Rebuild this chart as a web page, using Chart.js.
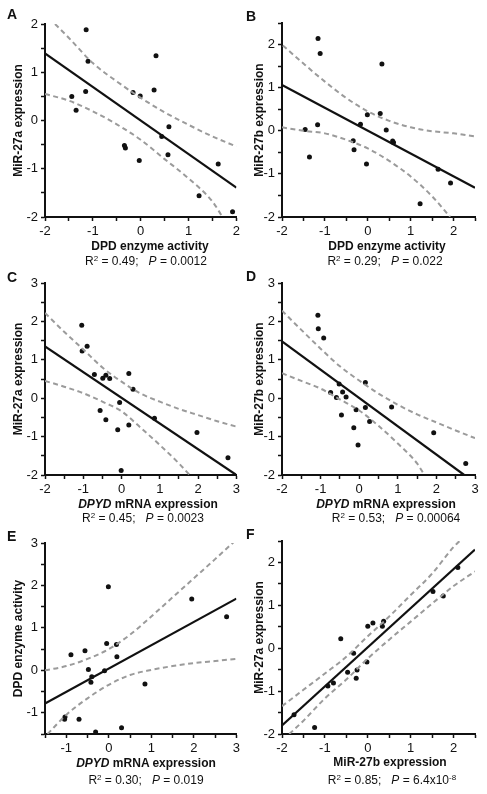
<!DOCTYPE html>
<html>
<head>
<meta charset="utf-8">
<script src="https://cdn.jsdelivr.net/npm/chart.js@4.4.1/dist/chart.umd.min.js"></script>
<style>
  body { margin: 0; background: #fff; }
  #fig { position: relative; width: 487px; height: 794px; background: #fff; font-family: "Liberation Sans", Arial, sans-serif; color: #111; }
  canvas { position: absolute; }
  .lbl { position: absolute; white-space: pre; line-height: 1; transform: translate(-50%, -50%); z-index: 2; }
  .letter { position: absolute; font-weight: bold; font-size: 14px; line-height: 1; z-index: 2; }
  .xt { font-weight: bold; font-size: 12px; }
  .st { font-size: 12px; }
  sup { font-size: 8px; vertical-align: 4px; line-height: 0; }
</style>
</head>
<body>
<div id="fig">
  <canvas id="pA" width="243" height="240" style="left:0px;top:0px"></canvas>
  <canvas id="pB" width="244" height="240" style="left:243px;top:0px"></canvas>
  <canvas id="pC" width="243" height="240" style="left:0px;top:260px"></canvas>
  <canvas id="pD" width="244" height="240" style="left:243px;top:260px"></canvas>
  <canvas id="pE" width="243" height="240" style="left:0px;top:525px"></canvas>
  <canvas id="pF" width="244" height="240" style="left:243px;top:525px"></canvas>

  <div class="letter" style="left:7px;top:7px">A</div>
  <div class="letter" style="left:246px;top:9px">B</div>
  <div class="letter" style="left:7px;top:270px">C</div>
  <div class="letter" style="left:246px;top:269px">D</div>
  <div class="letter" style="left:7px;top:529px">E</div>
  <div class="letter" style="left:246px;top:527px">F</div>

  <div class="lbl xt" style="left:150px;top:246px">DPD enzyme activity</div>
  <div class="lbl xt" style="left:387px;top:246px">DPD enzyme activity</div>
  <div class="lbl xt" style="left:148px;top:504px"><i>DPYD</i> mRNA expression</div>
  <div class="lbl xt" style="left:386px;top:504px"><i>DPYD</i> mRNA expression</div>
  <div class="lbl xt" style="left:146px;top:763px"><i>DPYD</i> mRNA expression</div>
  <div class="lbl xt" style="left:390px;top:762px">MiR-27b expression</div>

  <div class="lbl st" style="left:146px;top:261px">R<sup>2</sup> = 0.49;   <i>P</i> = 0.0012</div>
  <div class="lbl st" style="left:385px;top:261px">R<sup>2</sup> = 0.29;   <i>P</i> = 0.022</div>
  <div class="lbl st" style="left:143px;top:518px">R<sup>2</sup> = 0.45;   <i>P</i> = 0.0023</div>
  <div class="lbl st" style="left:396px;top:518px">R<sup>2</sup> = 0.53;   <i>P</i> = 0.00064</div>
  <div class="lbl st" style="left:146px;top:780px">R<sup>2</sup> = 0.30;   <i>P</i> = 0.019</div>
  <div class="lbl st" style="left:392px;top:780px">R<sup>2</sup> = 0.85;   <i>P</i> = 6.4x10<sup>-8</sup></div>
</div>

<script>
// A: DPD enzyme activity vs MiR-27a
const aX = [-1.14, -1.10, -1.44, -1.35, -1.15, 0.32, -0.16, -0.01, 0.28, 0.59, 0.44, -0.34, -0.32, -0.03, 0.57, 1.62, 1.22, 1.92];
const aY = [1.88, 1.23, 0.50, 0.21, 0.60, 1.34, 0.58, 0.51, 0.63, -0.13, -0.33, -0.52, -0.57, -0.83, -0.71, -0.90, -1.56, -1.89];
const aFitX = [-2, 2], aFitY = [1.39, -1.39];
const aUpX = [-1.79, -1.5, -1, -0.5, 0, 0.5, 1, 1.5, 2];
const aUpY = [2.0, 1.71, 1.19, 0.81, 0.47, 0.17, -0.09, -0.33, -0.54];
const aLoX = [-2, -1.5, -1, -0.5, 0, 0.5, 1, 1.5, 1.71];
const aLoY = [0.55, 0.41, 0.19, -0.08, -0.40, -0.80, -1.20, -1.68, -2.0];

// B: DPD enzyme activity vs MiR-27b
const bX = [-1.16, -1.11, 0.33, -1.46, -1.17, -1.36, -0.01, 0.29, -0.17, 0.43, 0.58, 0.60, -0.34, -0.32, -0.03, 1.64, 1.93, 1.22];
const bY = [2.14, 1.79, 1.55, 0.03, 0.14, -0.61, 0.37, 0.40, 0.15, 0.02, -0.24, -0.27, -0.23, -0.44, -0.77, -0.89, -1.21, -1.69];
const bFitX = [-2, 2.5], bFitY = [1.06, -1.32];
const bUpX = [-1.98, -1.5, -1, -0.5, 0, 0.5, 1, 1.5, 2, 2.5];
const bUpY = [1.98, 1.56, 1.14, 0.76, 0.45, 0.23, 0.08, -0.01, -0.06, -0.13];
const bLoX = [-2, -1.5, -1, -0.5, 0, 0.5, 1, 1.5, 1.92];
const bLoY = [0.08, 0.0, -0.06, -0.21, -0.41, -0.70, -1.06, -1.52, -2.0];

// C: DPYD mRNA vs MiR-27a
const cX = [-1.04, -0.90, -1.03, -0.71, -0.49, -0.41, -0.31, 0.19, 0.30, -0.05, -0.56, -0.41, -0.10, 0.19, 0.86, 1.97, 2.78, -0.01];
const cY = [1.90, 1.35, 1.23, 0.62, 0.52, 0.60, 0.51, 0.64, 0.23, -0.11, -0.32, -0.56, -0.82, -0.70, -0.52, -0.89, -1.55, -1.88];
const cFitX = [-2, 3], cFitY = [1.35, -2.0];
const cUpX = [-2, -1.5, -1, -0.5, 0, 0.5, 1, 1.5, 2, 2.5, 3];
const cUpY = [2.22, 1.73, 1.27, 0.80, 0.43, 0.12, -0.09, -0.28, -0.44, -0.60, -0.74];
const cLoX = [-2, -1.5, -1, -0.5, 0, 0.5, 1, 1.5, 1.78];
const cLoY = [0.45, 0.30, 0.13, -0.09, -0.34, -0.77, -1.22, -1.70, -2.0];

// D: DPYD mRNA vs MiR-27b
const dX = [-1.07, -1.06, -0.92, -0.74, -0.52, -0.59, -0.43, -0.34, 0.16, -0.08, 0.16, -0.46, 0.27, -0.14, -0.03, 0.84, 1.93, 2.76];
const dY = [2.16, 1.81, 1.57, 0.15, 0.37, 0.02, 0.16, 0.03, 0.41, -0.30, -0.24, -0.44, -0.61, -0.77, -1.22, -0.23, -0.90, -1.70];
const dFitX = [-2, 2.72], dFitY = [1.48, -2.0];
const dUpX = [-2, -1.5, -1, -0.5, 0, 0.5, 1, 1.5, 2, 2.5, 3];
const dUpY = [2.28, 1.78, 1.29, 0.83, 0.46, 0.12, -0.17, -0.42, -0.63, -0.84, -1.04];
const dLoX = [-2, -1.5, -1, -0.5, 0, 0.5, 1, 1.5, 1.69];
const dLoY = [0.65, 0.45, 0.25, -0.03, -0.32, -0.72, -1.18, -1.70, -2.0];

// E: DPYD mRNA vs DPD enzyme activity
const eX = [-0.01, 1.95, 2.77, -0.89, -0.56, -0.05, 0.18, 0.19, -0.48, -0.10, -0.40, -0.42, 0.85, -1.03, -1.04, -0.70, -0.31, 0.30];
const eY = [1.97, 1.68, 1.26, 0.37, 0.46, 0.63, 0.61, 0.32, 0.02, -0.01, -0.15, -0.28, -0.32, -1.10, -1.15, -1.15, -1.45, -1.35];
const eFitX = [-1.5, 3], eFitY = [-0.78, 1.69];
const eUpX = [-1.5, -1, -0.5, 0, 0.5, 1, 1.5, 2, 2.5, 3];
const eUpY = [0.0, 0.10, 0.27, 0.50, 0.84, 1.27, 1.72, 2.17, 2.62, 3.08];
const eLoX = [-1.44, -1, -0.5, 0, 0.5, 1, 1.5, 2, 2.5, 3];
const eLoY = [-1.5, -1.05, -0.66, -0.34, -0.11, 0.01, 0.10, 0.17, 0.22, 0.27];

// F: MiR-27b vs MiR-27a
const fX = [2.10, 1.52, 1.76, 0.12, 0.00, 0.37, 0.34, -0.63, -0.33, -0.02, -0.47, -0.25, -0.27, -0.80, -0.93, -1.72, -1.24];
const fY = [1.88, 1.32, 1.22, 0.59, 0.51, 0.63, 0.51, 0.22, -0.12, -0.32, -0.56, -0.51, -0.70, -0.81, -0.88, -1.55, -1.85];
const fFitX = [-2, 2.5], fFitY = [-1.80, 2.30];
const fUpX = [-2, -1.5, -1, -0.5, 0, 0.5, 1, 1.5, 2, 2.14];
const fUpY = [-1.35, -0.97, -0.59, -0.20, 0.28, 0.74, 1.24, 1.74, 2.36, 2.5];
const fLoX = [-1.83, -1.5, -1, -0.5, 0, 0.5, 1, 1.5, 2, 2.5];
const fLoY = [-2.0, -1.69, -1.17, -0.73, -0.24, 0.20, 0.62, 1.04, 1.45, 1.79];

Chart.defaults.font.family = '"Liberation Sans", Arial, sans-serif';
Chart.defaults.color = '#111';

function pts(xs, ys) {
  return xs.map((x, i) => ({ x: x, y: ys[i] }));
}

function intLabel(v) {
  return Math.abs(v - Math.round(v)) < 1e-6 ? String(Math.round(v)) : '';
}

function axis(min, max, extra) {
  return Object.assign({
    type: 'linear',
    min: min,
    max: max,
    ticks: { stepSize: 0.5, autoSkip: false, maxRotation: 0, callback: intLabel, font: { size: 13 }, color: '#111', padding: 3 },
    grid: { display: true, drawOnChartArea: false, drawTicks: true, tickLength: 4, tickWidth: 1.5, tickColor: '#111' },
    border: { display: true, color: '#111', width: 2 }
  }, extra);
}

function panel(id, p) {
  const band = (xs, ys) => ({
    data: pts(xs, ys), showLine: true, pointRadius: 0, borderColor: '#9b9b9b', borderWidth: 2,
    borderDash: [5, 3.5], cubicInterpolationMode: 'monotone', order: 1
  });
  new Chart(document.getElementById(id), {
    type: 'scatter',
    data: {
      datasets: [
        { data: pts(p.x, p.y), pointRadius: 2.5, pointBackgroundColor: '#111', pointBorderWidth: 0, order: 3 },
        { data: pts(p.fitX, p.fitY), showLine: true, pointRadius: 0, borderColor: '#111', borderWidth: 2.2, order: 2 },
        band(p.upX, p.upY),
        band(p.loX, p.loY)
      ]
    },
    options: {
      responsive: false,
      animation: false,
      layout: { padding: { top: p.padTop, right: p.padRight, left: 0, bottom: 0 } },
      plugins: { legend: { display: false }, tooltip: { enabled: false } },
      scales: {
        x: axis(p.xMin, p.xMax, { afterFit: s => { s.height = p.xH; } }),
        y: axis(p.yMin, p.yMax, {
          title: { display: true, text: p.yTitle, font: { size: 12, weight: 'bold' }, color: '#111', padding: { top: p.titlePad, bottom: 0 } },
          afterFit: s => { s.width = p.yW; }
        })
      }
    }
  });
}

panel('pA', { x: aX, y: aY, fitX: aFitX, fitY: aFitY, upX: aUpX, upY: aUpY, loX: aLoX, loY: aLoY,
  xMin: -2, xMax: 2, yMin: -2, yMax: 2, yTitle: 'MiR-27a expression',
  padTop: 24, padRight: 4, yW: 45, xH: 23, titlePad: 11.8 });
panel('pB', { x: bX, y: bY, fitX: bFitX, fitY: bFitY, upX: bUpX, upY: bUpY, loX: bLoX, loY: bLoY,
  xMin: -2, xMax: 2.5, yMin: -2, yMax: 2.5, yTitle: 'MiR-27b expression',
  padTop: 23, padRight: 12, yW: 39, xH: 23, titlePad: 9.5 });
panel('pC', { x: cX, y: cY, fitX: cFitX, fitY: cFitY, upX: cUpX, upY: cUpY, loX: cLoX, loY: cLoY,
  xMin: -2, xMax: 3, yMin: -2, yMax: 3, yTitle: 'MiR-27a expression',
  padTop: 23, padRight: 4, yW: 45, xH: 25, titlePad: 11.8 });
panel('pD', { x: dX, y: dY, fitX: dFitX, fitY: dFitY, upX: dUpX, upY: dUpY, loX: dLoX, loY: dLoY,
  xMin: -2, xMax: 3, yMin: -2, yMax: 3, yTitle: 'MiR-27b expression',
  padTop: 23, padRight: 12, yW: 39, xH: 25, titlePad: 9.5 });
panel('pE', { x: eX, y: eY, fitX: eFitX, fitY: eFitY, upX: eUpX, upY: eUpY, loX: eLoX, loY: eLoY,
  xMin: -1.5, xMax: 3, yMin: -1.5, yMax: 3, yTitle: 'DPD enzyme activity',
  padTop: 18, padRight: 4, yW: 45, xH: 31, titlePad: 11.8 });
panel('pF', { x: fX, y: fY, fitX: fFitX, fitY: fFitY, upX: fUpX, upY: fUpY, loX: fLoX, loY: fLoY,
  xMin: -2, xMax: 2.5, yMin: -2, yMax: 2.5, yTitle: 'MiR-27a expression',
  padTop: 16, padRight: 12, yW: 39, xH: 31, titlePad: 9.5 });
</script>
</body>
</html>
